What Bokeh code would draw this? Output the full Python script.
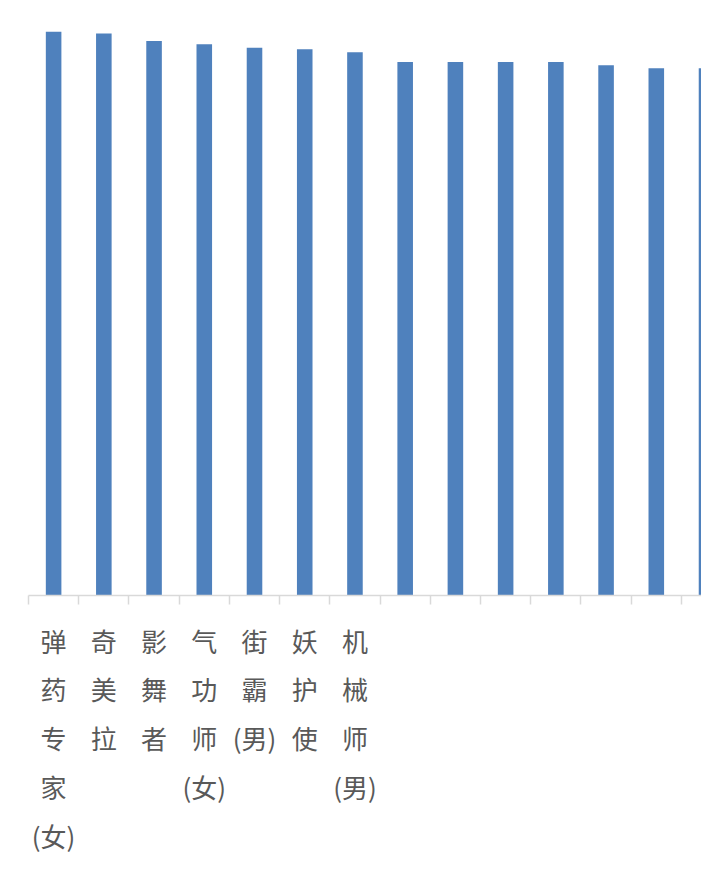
from bokeh.plotting import figure
from bokeh.models import ColumnDataSource, LinearAxis, FixedTicker, Range1d
from bokeh.embed import file_html
from bokeh.resources import INLINE

# Data (chart is cropped on the right)
labels = ["弹\n药\n专\n家\n(女)", "奇\n美\n拉", "影\n舞\n者", "气\n功\n师\n(女)",
          "街\n霸\n(男)", "妖\n护\n使", "机\n械\n师\n(男)",
          "", "", "", "", "", "", ""]
values = [19.21, 19.15, 18.89, 18.78, 18.66, 18.61, 18.51,
          18.18, 18.18, 18.18, 18.18, 18.07, 17.96, 17.96]

xs = list(range(len(values)))
source = ColumnDataSource(dict(x=xs, top=values, label=labels))

p = figure(frame_width=673, frame_height=587, output_backend="svg",
           toolbar_location=None, x_axis_type=None, y_axis_type=None,
           x_range=Range1d(-0.5, 12.9), y_range=Range1d(0, 20),
           min_border_left=28, min_border_right=0, min_border_top=8,
           min_border_bottom=0)
p.outline_line_color = None
p.xgrid.visible = False
p.ygrid.visible = False

p.vbar(x="x", top="top", width=0.31, bottom=0, source=source,
       fill_color="#4F81BD", line_color=None)

# category labels at bar centres, tick marks at category boundaries
axis = LinearAxis(ticker=FixedTicker(ticks=xs,
                                     minor_ticks=[i - 0.5 for i in xs] + [len(xs) - 0.5]))
axis.major_label_overrides = {i: lab for i, lab in zip(xs, labels)}
axis.axis_line_color = "#D9D9D9"
axis.axis_line_width = 1.5
axis.major_tick_line_color = None
axis.major_tick_in = 0
axis.major_tick_out = 9
axis.minor_tick_line_color = "#D9D9D9"
axis.minor_tick_line_width = 1.5
axis.minor_tick_in = 0
axis.minor_tick_out = 9
axis.major_label_text_font = "Noto Sans CJK SC"
axis.major_label_text_font_size = "26px"
axis.major_label_text_color = "#595959"
axis.major_label_text_line_height = 1.32
axis.major_label_standoff = 17
p.add_layout(axis, "below")

open("out.html", "w").write(file_html(p, INLINE))
